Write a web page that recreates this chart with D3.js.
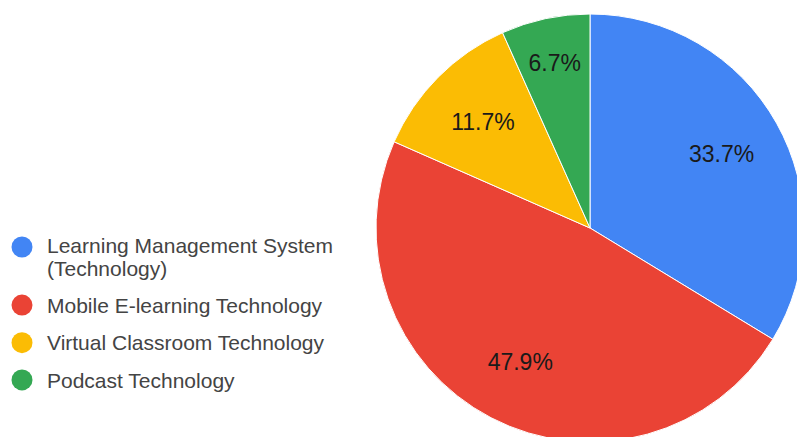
<!DOCTYPE html>
<html>
<head>
<meta charset="utf-8">
<script src="https://cdn.jsdelivr.net/npm/d3@7"></script>
<style>
  html, body { margin: 0; padding: 0; background: #fff; }
  svg { display: block; }
</style>
</head>
<body>
<svg id="chart" width="797" height="437"></svg>
<script>
// Share of e-learning technologies
const categories = [
  "Learning Management System (Technology)",
  "Mobile E-learning Technology",
  "Virtual Classroom Technology",
  "Podcast Technology"
];
const legendLines = [
  ["Learning Management System", "(Technology)"],
  ["Mobile E-learning Technology"],
  ["Virtual Classroom Technology"],
  ["Podcast Technology"]
];
const values = [33.7, 47.9, 11.7, 6.7];
const colors = ["#4285f4", "#ea4335", "#fbbc04", "#34a853"];

const svg = d3.select("#chart");
const cx = 590, cy = 228, radius = 214;

const color = d3.scaleOrdinal().domain(categories).range(colors);
const data = categories.map((c, i) => ({ name: c, value: values[i], lines: legendLines[i] }));

const pie = d3.pie().value(d => d.value).sort(null);
const arcs = pie(data);
const arc = d3.arc().innerRadius(0).outerRadius(radius);

const g = svg.append("g").attr("transform", `translate(${cx},${cy})`);

g.selectAll("path.slice")
  .data(arcs)
  .join("path")
  .attr("class", "slice")
  .attr("d", arc)
  .attr("fill", d => color(d.data.name))
  .attr("stroke", "#fff")
  .attr("stroke-width", 1);

// Percentage labels; narrow wedges push their label further out
const total = d3.sum(values);
g.selectAll("text.pct")
  .data(arcs)
  .join("text")
  .attr("class", "pct")
  .attr("transform", d => {
    const share = d.data.value / total;
    const r = radius * (share < 0.1 ? 0.79 : 0.705);
    const a = (d.startAngle + d.endAngle) / 2;
    return `translate(${Math.sin(a) * r},${-Math.cos(a) * r})`;
  })
  .attr("text-anchor", "middle")
  .attr("dy", "0.36em")
  .attr("font-family", "Arial, 'Liberation Sans', sans-serif")
  .attr("font-size", 23)
  .attr("fill", "#1a1a1a")
  .text(d => d.data.value.toFixed(1) + "%");

// Legend: one row per category, first-line baselines
const legendBaselines = [252.7, 312.7, 350.3, 387.5];
const lineGap = 23.3;
const legend = svg.append("g");
const items = legend.selectAll("g.item")
  .data(data)
  .join("g")
  .attr("class", "item")
  .attr("transform", (d, i) => `translate(22,${legendBaselines[i]})`);

items.append("circle")
  .attr("cy", d => d.lines.length > 1 ? -5.7 : -7.6)
  .attr("r", 10.5)
  .attr("fill", d => color(d.name));

items.append("text")
  .attr("font-family", "Arial, 'Liberation Sans', sans-serif")
  .attr("font-size", 21)
  .attr("fill", "#444")
  .selectAll("tspan")
  .data(d => d.lines)
  .join("tspan")
  .attr("x", 25)
  .attr("y", (l, j) => j * lineGap)
  .text(l => l);
</script>
</body>
</html>
